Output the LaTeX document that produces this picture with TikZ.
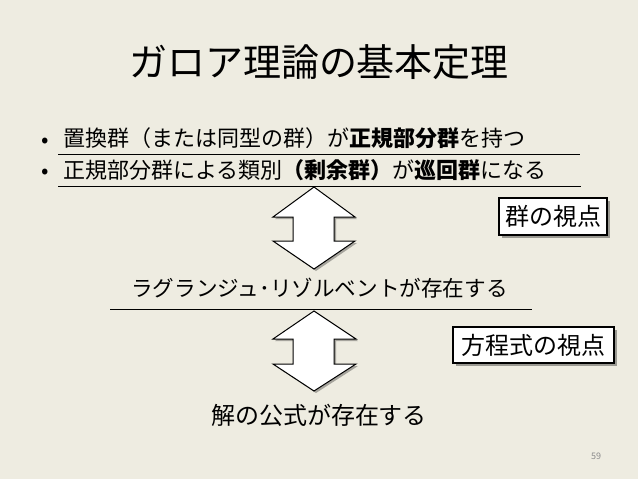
\documentclass[tikz,border=0pt]{standalone}
\usepackage{fontspec}
\setmainfont{Noto Sans CJK JP}
\usetikzlibrary{shadows}
\definecolor{bg}{HTML}{EEECE1}
\definecolor{pagenum}{HTML}{8C8C8C}
\begin{document}
\begin{tikzpicture}[x=1pt,y=-1pt,
  ttl/.style={inner sep=0pt, font=\fontsize{38pt}{44pt}\selectfont},
  txt/.style={inner sep=0pt, anchor=west, font=\fontsize{22pt}{26pt}\selectfont},
  midtxt/.style={inner sep=0pt, anchor=west, font=\fontsize{21.6pt}{26pt}\selectfont},
  bigtxt/.style={inner sep=0pt, font=\fontsize{24pt}{28pt}\selectfont},
  bul/.style={inner sep=0pt, anchor=base, font=\fontsize{22pt}{26pt}\selectfont},
  uline/.style={line width=0.9pt},
  dbl/.style={fill=white, draw=black, line width=1pt, line join=miter,
    drop shadow={shadow xshift=2pt, shadow yshift=-2pt, opacity=0.3, fill=black}},
  vbox/.style={draw=black, fill=white, line width=1.3pt, inner sep=0pt,
    font=\fontsize{24pt}{28pt}\selectfont,
    drop shadow={shadow xshift=3pt, shadow yshift=-3pt, opacity=0.35, fill=black}}
]
\useasboundingbox (0,0) rectangle (638,479);
\fill[bg] (0,0) rectangle (638,479);

% title
\node[ttl] (title) at (319,62) {ガロア理論の基本定理};

% bullets
\node[bul] (b1) at (45,147) {•};
\node[txt] (l1) at (63,138.5) {置換群（または同型の群）が\textbf{正規部分群}を持つ};
\node[bul] (b2) at (45,178) {•};
\node[txt] (l2) at (63,170) {正規部分群による類別\textbf{（剰余群）}が\textbf{巡回群}になる};

\coordinate (u1a) at (58,154);
\coordinate (u1b) at (580,154);
\coordinate (u2a) at (58,186);
\coordinate (u2b) at (581,186);
\draw[uline] (u1a) -- (u1b);
\draw[uline] (u2a) -- (u2b);

% first double arrow
\path[dbl] (314,187) -- (355,217) -- (334,217) -- (334,241) -- (355,241)
  -- (314,269) -- (273,241) -- (293,241) -- (293,217) -- (273,217) -- cycle;

% box group viewpoint
\node[vbox, minimum width=108pt, minimum height=37pt] (box1) at (553,216.5) {群の視点};

% middle statement
\node[midtxt] (mid) at (131,288.5) {ラグランジュ･リゾルベントが存在する};
\coordinate (u3a) at (110,309);
\coordinate (u3b) at (532,309);
\draw[uline] (u3a) -- (u3b);

% second double arrow
\path[dbl] (314,311) -- (356,339) -- (334,339) -- (334,364) -- (356,364)
  -- (314,391) -- (273,364) -- (293,364) -- (293,339) -- (273,339) -- cycle;

% box equation viewpoint
\node[vbox, minimum width=161pt, minimum height=36pt] (box2) at (533.5,345) {方程式の視点};

% bottom statement
\node[bigtxt] (bot) at (319,415) {解の公式が存在する};

% page number
\node[inner sep=0pt, text=pagenum, font=\fontsize{9pt}{10pt}\selectfont] (pg) at (596,456) {59};
\end{tikzpicture}
\end{document}
